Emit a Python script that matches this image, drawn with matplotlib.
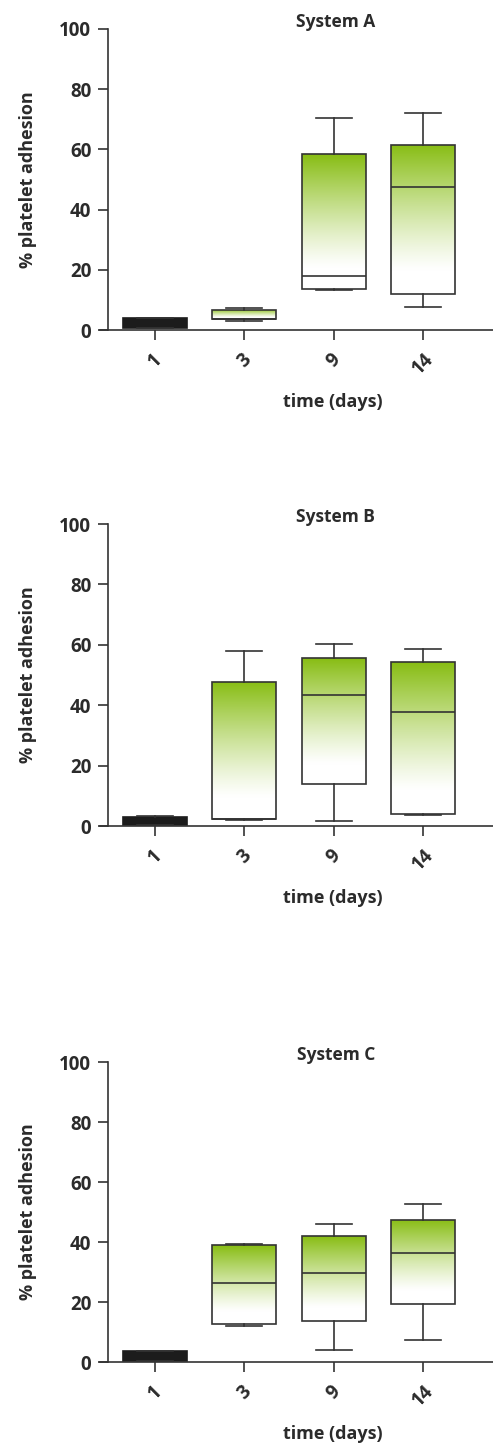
import matplotlib.pyplot as plt
import numpy as np
from matplotlib.colors import LinearSegmentedColormap

plt.rcParams['font.family'] = ['Open Sans', 'DejaVu Sans']

days = ['1', '3', '9', '14']
titles = ['System A', 'System B', 'System C']

# per day: whisker low, q1, median, q3, whisker high
a_lo = [0.5, 3.1, 13.3, 7.8]
a_q1 = [0.6, 3.5, 13.7, 11.9]
a_med = [2.0, 3.6, 18.0, 47.5]
a_q3 = [3.9, 6.7, 58.5, 61.5]
a_hi = [4.0, 7.2, 70.4, 72.0]

b_lo = [0.2, 1.9, 1.7, 3.5]
b_q1 = [0.3, 2.2, 14.0, 4.1]
b_med = [1.5, 2.3, 43.5, 37.6]
b_q3 = [3.0, 47.6, 55.7, 54.4]
b_hi = [3.2, 58.0, 60.2, 58.7]

c_lo = [0.3, 11.9, 3.9, 7.4]
c_q1 = [0.4, 12.6, 13.7, 19.2]
c_med = [2.0, 26.4, 29.8, 36.3]
c_q3 = [3.7, 38.9, 41.9, 47.2]
c_hi = [3.8, 39.4, 46.1, 52.6]

panels = [
    (a_lo, a_q1, a_med, a_q3, a_hi),
    (b_lo, b_q1, b_med, b_q3, b_hi),
    (c_lo, c_q1, c_med, c_q3, c_hi),
]

W, H = 493, 1446
ink = '#333333'
txt = '#2b2b2b'
green = '#88bd14'
cmap = LinearSegmentedColormap.from_list('grn', ['white', green])

# axes placement in pixels: (y of the 0 line, height of 0..100)
rects = [(330, 301), (826, 302), (1362, 300)]
box_w = 0.72

fig = plt.figure(figsize=(W / 100, H / 100), dpi=100)

for (y0, h), title, (lo, q1, med, q3, hi) in zip(rects, titles, panels):
    ax = fig.add_axes([100 / W, (H - y0) / H, 393 / W, h / H])
    stats = []
    for i in range(len(days)):
        stats.append({'whislo': lo[i], 'q1': q1[i], 'med': med[i],
                      'q3': q3[i], 'whishi': hi[i], 'label': days[i]})
    pos = np.arange(len(days))
    bp = ax.bxp(stats, positions=pos, widths=box_w, patch_artist=True,
                showfliers=False,
                boxprops=dict(facecolor='none', edgecolor=ink, linewidth=1.2),
                medianprops=dict(color=ink, linewidth=1.2),
                whiskerprops=dict(color=ink, linewidth=1.2),
                capprops=dict(color=ink, linewidth=1.2),
                capwidths=0.4)
    bp['medians'][0].set_color('#1c1c1c')
    for i, box in enumerate(bp['boxes']):
        if i == 0:
            box.set_facecolor('#1c1c1c')
            box.set_edgecolor('#1c1c1c')
            continue
        t = np.linspace(0, 1, 200).reshape(-1, 1)
        grad = np.clip((t - 0.15) / 0.85, 0, 1) ** 1.2
        im = ax.imshow(grad, cmap=cmap, vmin=0, vmax=1, origin='lower',
                       extent=[pos[i] - box_w / 2, pos[i] + box_w / 2, q1[i], q3[i]],
                       aspect='auto', zorder=1.5, interpolation='bilinear')
        im.set_clip_path(box)

    ax.set_xlim(-0.616, 3.784)
    ax.set_ylim(0, 100)
    ax.set_yticks([0, 20, 40, 60, 80, 100])
    ax.set_xticks(pos)
    ax.set_xticklabels(days, rotation=45, ha='center')
    for s in ['top', 'right']:
        ax.spines[s].set_visible(False)
    ax.spines['left'].set_position(('axes', 8 / 393))
    for s in ['left', 'bottom']:
        ax.spines[s].set_color(ink)
        ax.spines[s].set_linewidth(1.2)
    ax.tick_params(axis='both', colors=ink, width=1.2, length=7,
                   labelsize=13.5, labelcolor=txt)
    ax.tick_params(axis='y', pad=5)
    ax.tick_params(axis='x', pad=7)
    for lab in ax.get_xticklabels() + ax.get_yticklabels():
        lab.set_fontweight('bold')

    ax.text(0.60, 1.005, title, transform=ax.transAxes, ha='center',
            va='baseline', fontsize=12.5, fontweight='bold', color=txt)
    ax.text(-0.183, 0.5, '% platelet adhesion', transform=ax.transAxes,
            rotation=90, ha='center', va='center', fontsize=13,
            fontweight='bold', color=txt)
    ax.text(0.593, -72 / h, 'time (days)', transform=ax.transAxes,
            ha='center', va='center', fontsize=13, fontweight='bold',
            color=txt)

fig.savefig('out.png', dpi=100)
